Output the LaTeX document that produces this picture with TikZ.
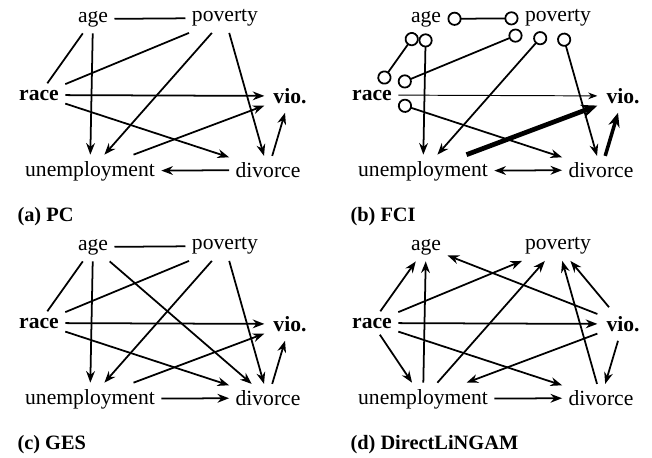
\documentclass[tikz,border=0pt]{standalone}
\usepackage{fontspec}
\setmainfont{Liberation Serif}
\usetikzlibrary{arrows.meta}

\begin{document}
\begin{tikzpicture}[x=0.02cm,y=-0.02cm,>={Stealth[length=6.6pt,width=5pt]},
    every node/.style={font=\fontsize{12.3}{14}\selectfont,inner sep=3.5pt},
    edge/.style={line width=1pt},
    thin edge/.style={line width=0.55pt,>={Stealth[length=5.2pt,width=3.8pt]}},
    bold edge/.style={line width=2pt,>={Stealth[length=8pt,width=6.5pt]}},
    bolder edge/.style={line width=2.7pt,>={Stealth[length=9pt,width=7.5pt]}},
    circ both/.style={{Circle[open,length=8pt]}-{Circle[open,length=8pt]}},
    circ to/.style={{Circle[open,length=8pt]}->},
    caption/.style={anchor=west,font=\fontsize{11.6}{14}\selectfont\bfseries}]
    \useasboundingbox (0,0) rectangle (652,457);

    % same six variables in every panel
    \foreach \p/\dx/\dy/\lbl in {a/0/0/PC,b/333/0/FCI,c/0/228/GES,d/333/228/DirectLiNGAM}{
        \begin{scope}[shift={(\dx,\dy)},name prefix=\p-]
            \node (age) at (93,19) {age};
            \node (poverty) at (225,18) {poverty};
            \node[font=\fontsize{12.3}{14}\selectfont\bfseries] (race) at (39,95) {race};
            \node[font=\fontsize{12.3}{14}\selectfont\bfseries,inner sep=5pt] (vio) at (290,96) {vio.};
            \node (unemployment) at (90,171) {unemployment};
            \node (divorce) at (268,170) {divorce};
            \node[caption] (cap) at (11,217) {(\p) \lbl};
        \end{scope}
    }

    % (a) PC
    \draw[edge] (a-age) -- (a-poverty);
    \draw[edge] (a-age) -- (a-race);
    \draw[edge,->] (a-age) -- (a-unemployment);
    \draw[edge] (a-poverty) -- (a-race);
    \draw[edge,->] (a-poverty) -- (a-unemployment);
    \draw[edge,->] (a-poverty) -- (a-divorce);
    \draw[edge,->] (a-race) -- (a-vio);
    \draw[edge,->] (a-race) -- (a-divorce);
    \draw[edge,->] (a-unemployment) -- (a-vio);
    \draw[edge,->] (a-divorce) -- (a-vio);
    \draw[edge,->] (a-divorce) -- (a-unemployment);

    % (b) FCI
    \draw[edge,circ both] (b-age) -- (b-poverty);
    \draw[edge,circ both] (b-age) -- (b-race);
    \draw[edge,circ to] (b-age) -- (b-unemployment);
    \draw[edge,circ both] (b-poverty) -- (b-race);
    \draw[edge,circ to] (b-poverty) -- (b-unemployment);
    \draw[edge,circ to] (b-poverty) -- (b-divorce);
    \draw[thin edge,->] (b-race) -- (b-vio);
    \draw[edge,circ to] (b-race) -- (b-divorce);
    \draw[bolder edge,->] (b-unemployment) -- (b-vio);
    \draw[bold edge,->] (b-divorce) -- (b-vio);
    \draw[edge,<->] (b-unemployment) -- (b-divorce);

    % (c) GES
    \draw[edge] (c-age) -- (c-poverty);
    \draw[edge] (c-age) -- (c-race);
    \draw[edge,->] (c-age) -- (c-unemployment);
    \draw[edge,->] (c-age) -- (c-divorce);
    \draw[edge] (c-poverty) -- (c-race);
    \draw[edge,->] (c-poverty) -- (c-unemployment);
    \draw[edge,->] (c-poverty) -- (c-divorce);
    \draw[edge,->] (c-race) -- (c-vio);
    \draw[edge,->] (c-race) -- (c-divorce);
    \draw[edge,->] (c-unemployment) -- (c-vio);
    \draw[edge,->] (c-divorce) -- (c-vio);
    \draw[edge,->] (c-unemployment) -- (c-divorce);

    % (d) DirectLiNGAM
    \draw[edge,->] (d-race) -- (d-age);
    \draw[edge,->] (d-unemployment) -- (d-age);
    \draw[edge,->] (d-vio) -- (d-age);
    \draw[edge,->] (d-race) -- (d-poverty);
    \draw[edge,->] (d-unemployment) -- (d-poverty);
    \draw[edge,->] (d-divorce) -- (d-poverty);
    \draw[edge,->] (d-vio) -- (d-poverty);
    \draw[edge,->] (d-race) -- (d-vio);
    \draw[edge,->] (d-race) -- (d-unemployment);
    \draw[edge,->] (d-race) -- (d-divorce);
    \draw[edge,->] (d-vio) -- (d-unemployment);
    \draw[edge,->] (d-vio) -- (d-divorce);
    \draw[edge,->] (d-unemployment) -- (d-divorce);
\end{tikzpicture}
\end{document}
